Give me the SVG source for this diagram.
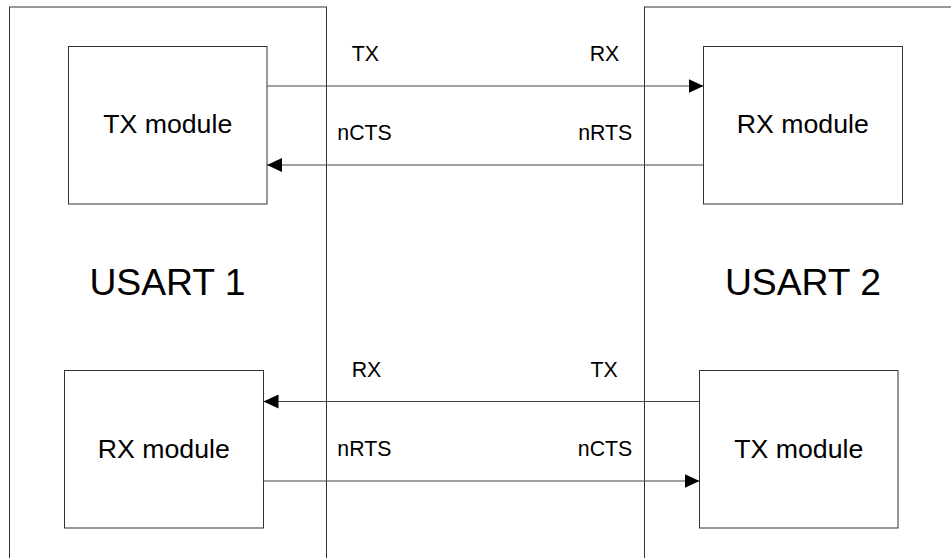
<svg xmlns="http://www.w3.org/2000/svg" width="951" height="558" viewBox="0 0 951 558">
<defs>
<style>
.box{fill:#fff;stroke:#333;stroke-width:1}
.outer{fill:none;stroke:#333;stroke-width:1}
.conn{fill:none;stroke:#444;stroke-width:1.2}
.big{font-family:"Liberation Sans",Arial,sans-serif;font-size:37.3px;fill:#000;text-anchor:middle}
.mod{font-family:"Liberation Sans",Arial,sans-serif;font-size:26.7px;fill:#000;text-anchor:middle}
.lbl{font-family:"Liberation Sans",Arial,sans-serif;font-size:21.3px;fill:#000}
</style>
<marker id="arr" markerUnits="userSpaceOnUse" markerWidth="16" markerHeight="15" refX="15" refY="7" orient="auto">
<path d="M0,0 L15,7 L0,14 Z" fill="#000"/>
</marker>
</defs>
<rect width="951" height="558" fill="#fff"/>
<g id="usart1">
<rect class="outer" x="9.5" y="7" width="317" height="600"/>
<text class="big" x="167.5" y="295">USART 1</text>
</g>
<g id="usart2">
<rect class="outer" x="644.5" y="7" width="400" height="600"/>
<text class="big" x="803" y="295">USART 2</text>
</g>
<g id="tx1">
<rect class="box" x="68.5" y="46.5" width="198.5" height="157.5"/>
<text class="mod" x="167.7" y="133">TX module</text>
</g>
<g id="rx2">
<rect class="box" x="703.5" y="46.5" width="199" height="157.5"/>
<text class="mod" x="802.8" y="133">RX module</text>
</g>
<g id="rx1">
<rect class="box" x="64.5" y="370.5" width="199" height="157.5"/>
<text class="mod" x="163.8" y="458.3">RX module</text>
</g>
<g id="tx2">
<rect class="box" x="699.5" y="370.5" width="198.5" height="157.5"/>
<text class="mod" x="798.8" y="458.3">TX module</text>
</g>
<g id="connectors">
<line class="conn" x1="267" y1="86" x2="703.5" y2="86" marker-end="url(#arr)"/>
<line class="conn" x1="703.5" y1="165" x2="267" y2="165" marker-end="url(#arr)"/>
<line class="conn" x1="699.5" y1="401.5" x2="263.5" y2="401.5" marker-end="url(#arr)"/>
<line class="conn" x1="263.5" y1="481" x2="699.5" y2="481" marker-end="url(#arr)"/>
<text class="lbl" x="351.7" y="60.7">TX</text>
<text class="lbl" x="619.3" y="60.7" text-anchor="end">RX</text>
<text class="lbl" x="337.3" y="140">nCTS</text>
<text class="lbl" x="632.3" y="140" text-anchor="end">nRTS</text>
<text class="lbl" x="351.7" y="376.7">RX</text>
<text class="lbl" x="617.7" y="376.7" text-anchor="end">TX</text>
<text class="lbl" x="337.3" y="456">nRTS</text>
<text class="lbl" x="632.3" y="456" text-anchor="end">nCTS</text>
</g>
</svg>
